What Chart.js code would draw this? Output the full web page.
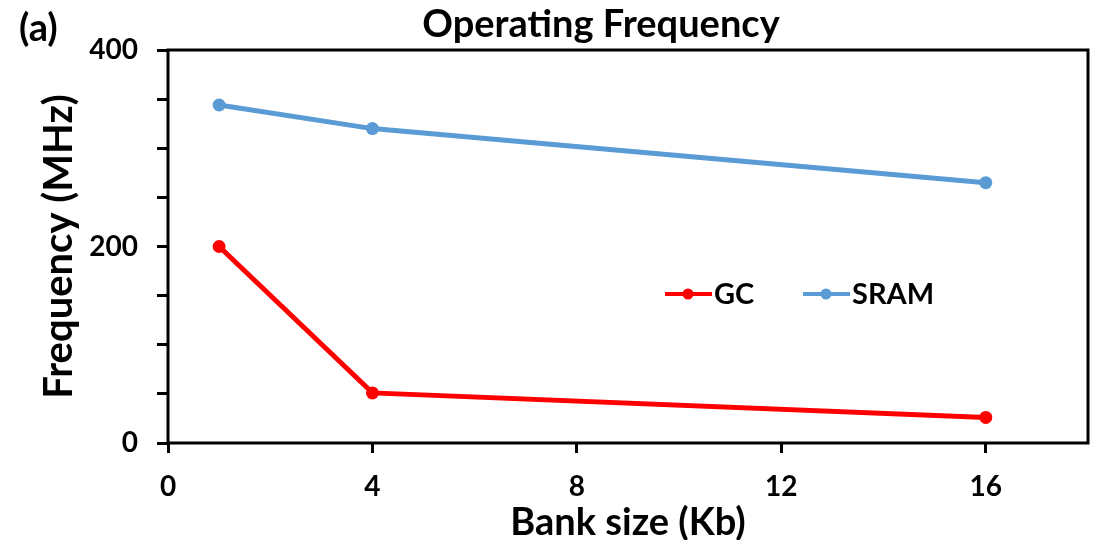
<!DOCTYPE html>
<html>
<head>
<meta charset="utf-8">
<script src="https://cdn.jsdelivr.net/npm/chart.js@4/dist/chart.umd.min.js"></script>
<style>
  html, body { margin: 0; padding: 0; background: #fff; }
</style>
</head>
<body>
<canvas id="myChart" width="1099" height="540"></canvas>
<script>
// values
const bankSizes = [1, 4, 16];
const gcFreq = [200, 51, 26];
const sramFreq = [344, 320, 265];
const seriesNames = ['GC', 'SRAM'];
const xTicks = [0, 4, 8, 12, 16];
const yLabelTicks = [0, 200, 400];

const FONT = 'Lato';

function pts(ys) {
    return bankSizes.map(function (x, i) { return { x: x, y: ys[i] }; });
}

// title, panel letter, plot box and in-plot legend
const extras = {
    id: 'extras',
    beforeDatasetsDraw: function (chart) {
        const c = chart.ctx, a = chart.chartArea;
        c.save();
        c.strokeStyle = '#000';
        c.lineWidth = 3;
        c.strokeRect(a.left, a.top, a.right - a.left, a.bottom - a.top);
        c.restore();
    },
    afterDraw: function (chart) {
        const c = chart.ctx;
        c.save();
        c.fillStyle = '#000';
        c.textBaseline = 'alphabetic';
        c.font = 'bold 38px ' + FONT;
        c.textAlign = 'center';
        c.fillText('Operating Frequency', 601, 37);
        c.font = 'bold 38px ' + FONT;
        c.textAlign = 'left';
        c.fillText('(a)', 19, 41);

        // legend
        const items = [[665, 0], [803, 1]];
        c.font = 'bold 29px ' + FONT;
        c.textBaseline = 'middle';
        items.forEach(function (it) {
            const ds = chart.data.datasets[it[1]];
            const x = it[0], y = 294;
            c.strokeStyle = ds.borderColor;
            c.lineWidth = 4;
            c.beginPath();
            c.moveTo(x, y);
            c.lineTo(x + 47, y);
            c.stroke();
            c.fillStyle = ds.borderColor;
            c.beginPath();
            c.arc(x + 23, y, 5.5, 0, Math.PI * 2);
            c.fill();
            c.fillStyle = '#000';
            c.fillText(ds.label, x + 49, y + 1);
        });
        c.restore();
    }
};

const ctx = document.getElementById('myChart').getContext('2d');

var chart = new Chart(ctx, {
    type: 'line',
    data: {
        datasets: [{
            label: seriesNames[0],
            data: pts(gcFreq),
            borderColor: '#FF0000',
            backgroundColor: '#FF0000',
            borderWidth: 5,
            pointRadius: 6.5,
            pointBorderWidth: 0,
        }, {
            label: seriesNames[1],
            data: pts(sramFreq),
            borderColor: '#5B9BD5',
            backgroundColor: '#5B9BD5',
            borderWidth: 5,
            pointRadius: 6.5,
            pointBorderWidth: 0,
        }]
    },
    options: {
        responsive: false,
        animation: false,
        devicePixelRatio: 1,
        layout: { padding: { top: 50, right: 11, left: 0, bottom: 0 } },
        plugins: {
            legend: { display: false },
            tooltip: { enabled: false },
        },
        scales: {
            x: {
                type: 'linear',
                min: 0,
                max: 18,
                afterFit: function (s) { s.height = 97; },
                afterBuildTicks: function (s) {
                    s.ticks = xTicks.map(function (v) { return { value: v }; });
                },
                border: { display: false },
                grid: {
                    drawOnChartArea: false,
                    drawTicks: true,
                    tickLength: 10,
                    tickWidth: 3,
                    tickColor: '#000',
                },
                ticks: {
                    color: '#000',
                    padding: 17,
                    maxRotation: 0,
                    autoSkip: false,
                    font: { family: FONT, size: 28, weight: 'bold' },
                },
                title: {
                    display: true,
                    text: 'Bank size (Kb)',
                    color: '#000',
                    padding: { top: 0, bottom: 0 },
                    font: { family: FONT, size: 38, weight: 'bold', lineHeight: 0.9 },
                },
            },
            y: {
                min: 0,
                max: 400,
                afterFit: function (s) { s.width = 168; },
                border: { display: false },
                grid: {
                    drawOnChartArea: false,
                    drawTicks: true,
                    tickLength: 11,
                    tickWidth: 3,
                    tickColor: '#000',
                },
                ticks: {
                    stepSize: 50,
                    autoSkip: false,
                    color: '#000',
                    padding: 19,
                    font: { family: FONT, size: 28, weight: 'bold' },
                    callback: function (v) { return yLabelTicks.indexOf(v) >= 0 ? v : ''; },
                },
                title: {
                    display: true,
                    text: 'Frequency (MHz)',
                    color: '#000',
                    padding: { top: 35, bottom: 0 },
                    font: { family: FONT, size: 40, weight: 'bold' },
                },
            },
        },
    },
    plugins: [extras],
});
</script>
</body>
</html>
